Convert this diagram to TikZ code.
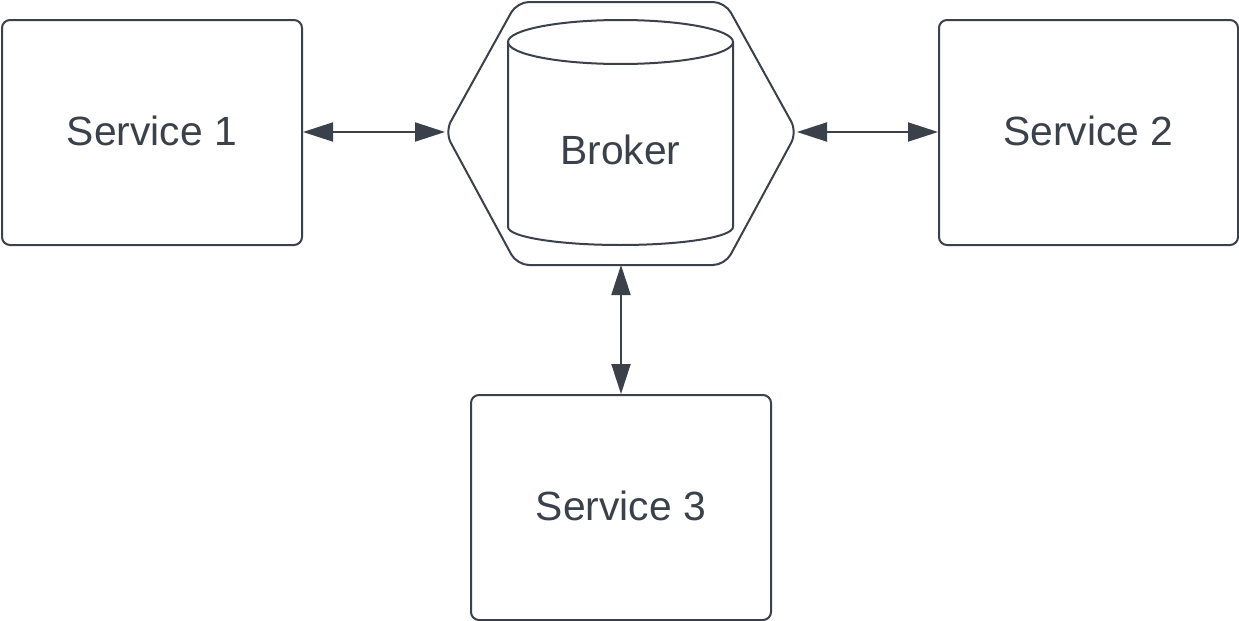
\documentclass[tikz,border=0pt]{standalone}
\usepackage{fontspec}
\setmainfont{Liberation Sans}
\usetikzlibrary{arrows.meta,calc}
\definecolor{ink}{RGB}{58,65,74}
\begin{document}
\begin{tikzpicture}[x=0.5pt,y=-0.5pt,line width=1pt,draw=ink,
    service/.style={draw=ink,rounded corners=4pt,minimum width=150pt,minimum height=112.5pt,
        text=ink,font=\fontsize{20.4}{24}\selectfont},
    link/.style={draw=ink,{Triangle[length=15pt,width=9.5pt]}-{Triangle[length=15pt,width=9.5pt]}}]
\useasboundingbox (0,0) rectangle (1239,621);

    \node[service] (s1) at (152,132.5) {\raisebox{1.5pt}{Service 1}};
    \node[service,minimum width=149.5pt] (s2) at (1088.5,132.5) {\raisebox{1.5pt}{Service 2}};
    \node[service] (s3) at (621,507.5) {\raisebox{1.5pt}{Service 3}};

    % broker hexagon
    \coordinate (hexL) at (445,132);
    \coordinate (hexR) at (797,132);
    \coordinate (hexB) at (621,265);
    \draw[ink,rounded corners=6pt] (hexL) -- (517,2) -- (725,2) -- (hexR) -- (725,265) -- (517,265) -- cycle;

    % cylinder
    \draw[ink] (620.5,42) ellipse [x radius=112.5,y radius=22];
    \draw[ink] (508,42) -- (508,227) arc[start angle=180,end angle=0,x radius=112.5,y radius=18] -- (733,42);
    \node[text=ink,font=\fontsize{20.4}{24}\selectfont] (broker) at (620.5,150) {Broker};

    \draw[link] (s1.east |- hexL) -- (hexL);
    \draw[link] (hexR) -- (s2.west |- hexR);
    \draw[link] (hexB) -- (s3.north -| hexB);
\end{tikzpicture}
\end{document}
